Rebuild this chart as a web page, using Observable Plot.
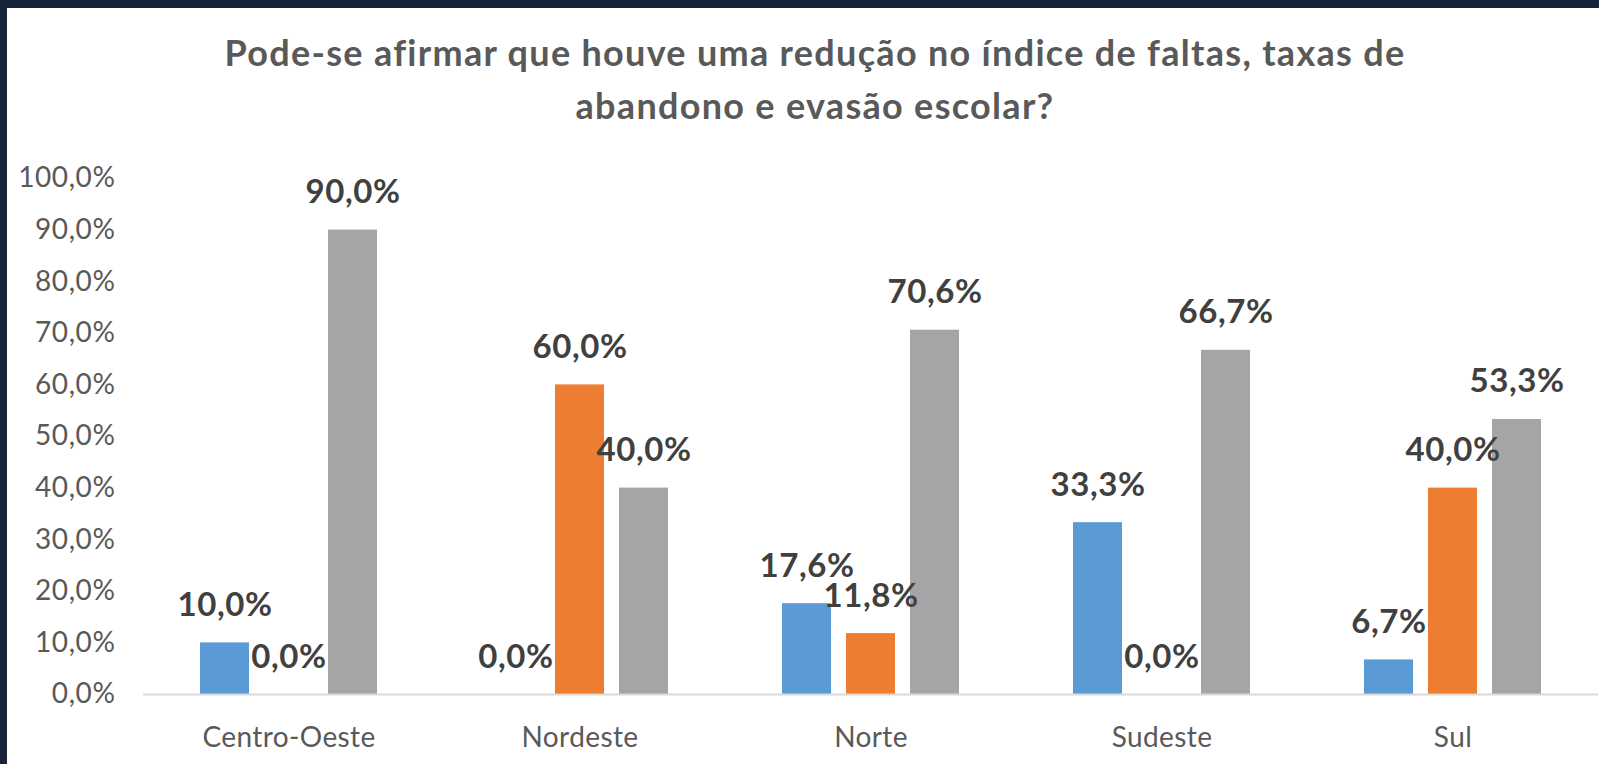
<!DOCTYPE html>
<html>
<head>
<meta charset="utf-8">
<script src="https://cdn.jsdelivr.net/npm/d3@7"></script>
<script src="https://cdn.jsdelivr.net/npm/@observablehq/plot@0.6"></script>
<style>
  html, body { margin: 0; padding: 0; background: #fff; }
  body { width: 1599px; height: 764px; position: relative; overflow: hidden; font-family: Lato, "Open Sans", sans-serif; }
  #frame { position: absolute; left: 0; top: 0; width: 1599px; height: 764px; box-sizing: border-box;
           border-top: 8px solid #17233b; border-left: 7px solid #17233b; pointer-events: none; z-index: 2; }
  #title { position: absolute; left: 15px; top: 26px; width: 1600px; text-align: center;
           font-family: Lato, sans-serif; font-weight: 700; font-size: 36px; letter-spacing: 1.3px; line-height: 53px; color: #595959; }
  #chart { position: absolute; left: 0; top: 150px; }
  g[aria-label="y-axis tick label"] text { letter-spacing: 0.6px; }
  g[aria-label="fx-axis tick label"] text { letter-spacing: 0.4px; }
  g[aria-label="text"] text { letter-spacing: 0.6px; }
</style>
</head>
<body>
<div id="title">Pode-se afirmar que houve uma redução no índice de faltas, taxas de<br>abandono e evasão escolar?</div>
<div id="chart"></div>
<div id="frame"></div>
<script>
const regions = ["Centro-Oeste", "Nordeste", "Norte", "Sudeste", "Sul"];
const series = ["Sim", "Não", "Não sei"];
const seriesColors = ["#5B9BD5", "#ED7D31", "#A5A5A5"];
const valuesSim    = [10.0, 0.0, 17.6, 33.3, 6.7];
const valuesNao    = [0.0, 60.0, 11.8, 0.0, 40.0];
const valuesNaoSei = [90.0, 40.0, 70.6, 66.7, 53.3];
const yTicks = [0, 10, 20, 30, 40, 50, 60, 70, 80, 90, 100];

const seriesValues = [valuesSim, valuesNao, valuesNaoSei];
const data = [];
regions.forEach((r, i) => {
  series.forEach((s, j) => data.push({region: r, series: s, value: seriesValues[j][i]}));
});
const fmt = v => v.toFixed(1).replace(".", ",") + "%";

const chart = Plot.plot({
  width: 1599,
  height: 614,
  marginLeft: 142,
  marginRight: 0,
  marginTop: 28,
  marginBottom: 70,
  style: {fontFamily: "Lato, sans-serif", background: "transparent", overflow: "visible"},
  fx: {domain: regions, paddingInner: 0, paddingOuter: 0, label: null},
  x: {domain: series, paddingInner: 0.23, paddingOuter: 0.86, axis: null},
  y: {domain: [0, 100], label: null},
  color: {domain: series, range: seriesColors},
  marks: [
    Plot.axisY({ticks: yTicks, tickFormat: fmt, tickSize: 0, tickPadding: 28, fontSize: 28, fill: "#595959", label: null}),
    Plot.axisFx({anchor: "bottom", tickSize: 0, tickPadding: 33, fontSize: 28, fill: "#595959", label: null}),
    Plot.barY(data, {fx: "region", x: "series", y: "value", fill: "series"}),
    Plot.ruleY([0], {stroke: "#d9d9d9", strokeWidth: 2}),
    Plot.text(data, {fx: "region", x: "series", y: "value", text: d => fmt(d.value),
      lineAnchor: "bottom", dy: -27, fontSize: 33, fontWeight: 700, fill: "#404040"})
  ]
});
document.getElementById("chart").appendChild(chart);
</script>
</body>
</html>
